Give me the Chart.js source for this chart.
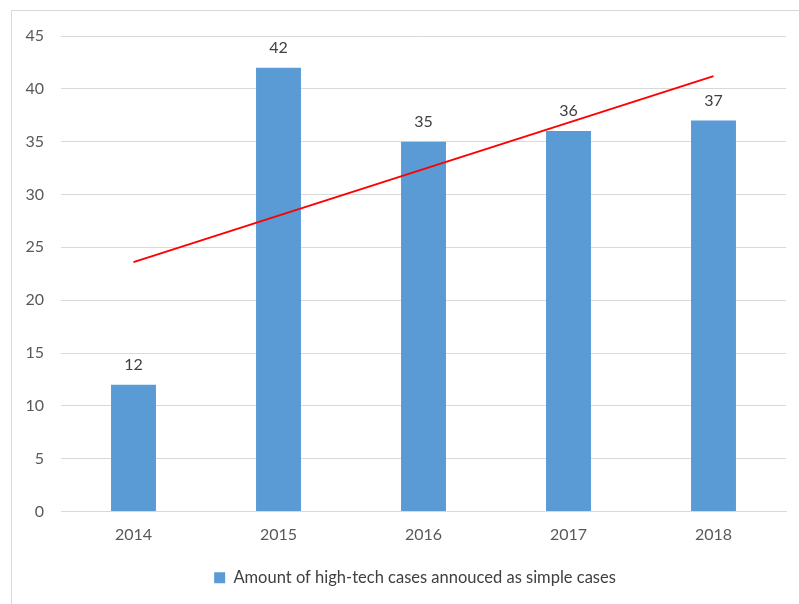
<!DOCTYPE html>
<html>
<head>
<meta charset="utf-8">
<script src="https://cdn.jsdelivr.net/npm/chart.js@4"></script>
<style>
  html, body { margin: 0; padding: 0; background: #fff; overflow: hidden; }
  #frame { position: absolute; left: 11px; top: 10px; width: 820px; height: 700px; border: 1px solid #d9d9d9; }
  #wrap { position: absolute; left: 0; top: 0; width: 799px; height: 604px; }
</style>
</head>
<body>
<div id="frame"></div>
<div id="wrap"><canvas id="chart"></canvas></div>
<script>
const years = ["2014", "2015", "2016", "2017", "2018"];
const cases = [12, 42, 35, 36, 37];
// trend line, only the two end points are drawn
const trend = [23.6, null, null, null, 41.2];
const seriesName = "Amount of high-tech cases annouced as simple cases";

const FONT = "Lato, 'Open Sans', sans-serif";

// value labels above the bars
const barLabels = {
  id: "barLabels",
  afterDatasetsDraw(chart) {
    const ctx = chart.ctx;
    const meta = chart.getDatasetMeta(0);
    ctx.save();
    ctx.font = "16px " + FONT;
    ctx.fillStyle = "#404040";
    ctx.textAlign = "center";
    ctx.textBaseline = "middle";
    meta.data.forEach((bar, i) => {
      ctx.fillText(cases[i], bar.x, bar.y - 20);
    });
    ctx.restore();
  }
};

// legend sits a bit right of the canvas centre in the original
const legendShift = {
  id: "legendShift",
  afterLayout(chart) {
    chart.legend.left += 22;
    chart.legend.right += 22;
  }
};

new Chart(document.getElementById("chart"), {
  type: "bar",
  data: {
    labels: years,
    datasets: [{
      label: seriesName,
      data: cases,
      backgroundColor: "#5b9bd5",
      barPercentage: 0.31,
      categoryPercentage: 1,
      order: 2
    }, {
      type: "line",
      label: "trend",
      data: trend,
      borderColor: "#ff0000",
      borderWidth: 2,
      pointRadius: 0,
      spanGaps: true,
      order: 1
    }]
  },
  options: {
    responsive: true,
    maintainAspectRatio: false,
    animation: false,
    layout: { padding: { top: 36, right: 13, bottom: 8, left: 0 } },
    plugins: {
      tooltip: { enabled: false },
      legend: {
        position: "bottom",
        labels: {
          filter: item => item.datasetIndex === 0,
          boxWidth: 11,
          boxHeight: 11,
          padding: 10,
          color: "#404040",
          font: { size: 16.5, family: FONT }
        }
      }
    },
    scales: {
      x: {
        grid: { display: false, drawTicks: false },
        border: { color: "#d9d9d9" },
        ticks: { color: "#595959", padding: 14, font: { size: 16, family: FONT } },
        afterFit: s => { s.height = 48; }
      },
      y: {
        min: 0,
        max: 45,
        ticks: { stepSize: 5, color: "#595959", padding: 17, font: { size: 16, family: FONT } },
        grid: { color: "#d9d9d9", drawTicks: false },
        border: { display: false },
        afterFit: s => { s.width = 61; }
      }
    }
  },
  plugins: [barLabels, legendShift]
});
</script>
</body>
</html>
